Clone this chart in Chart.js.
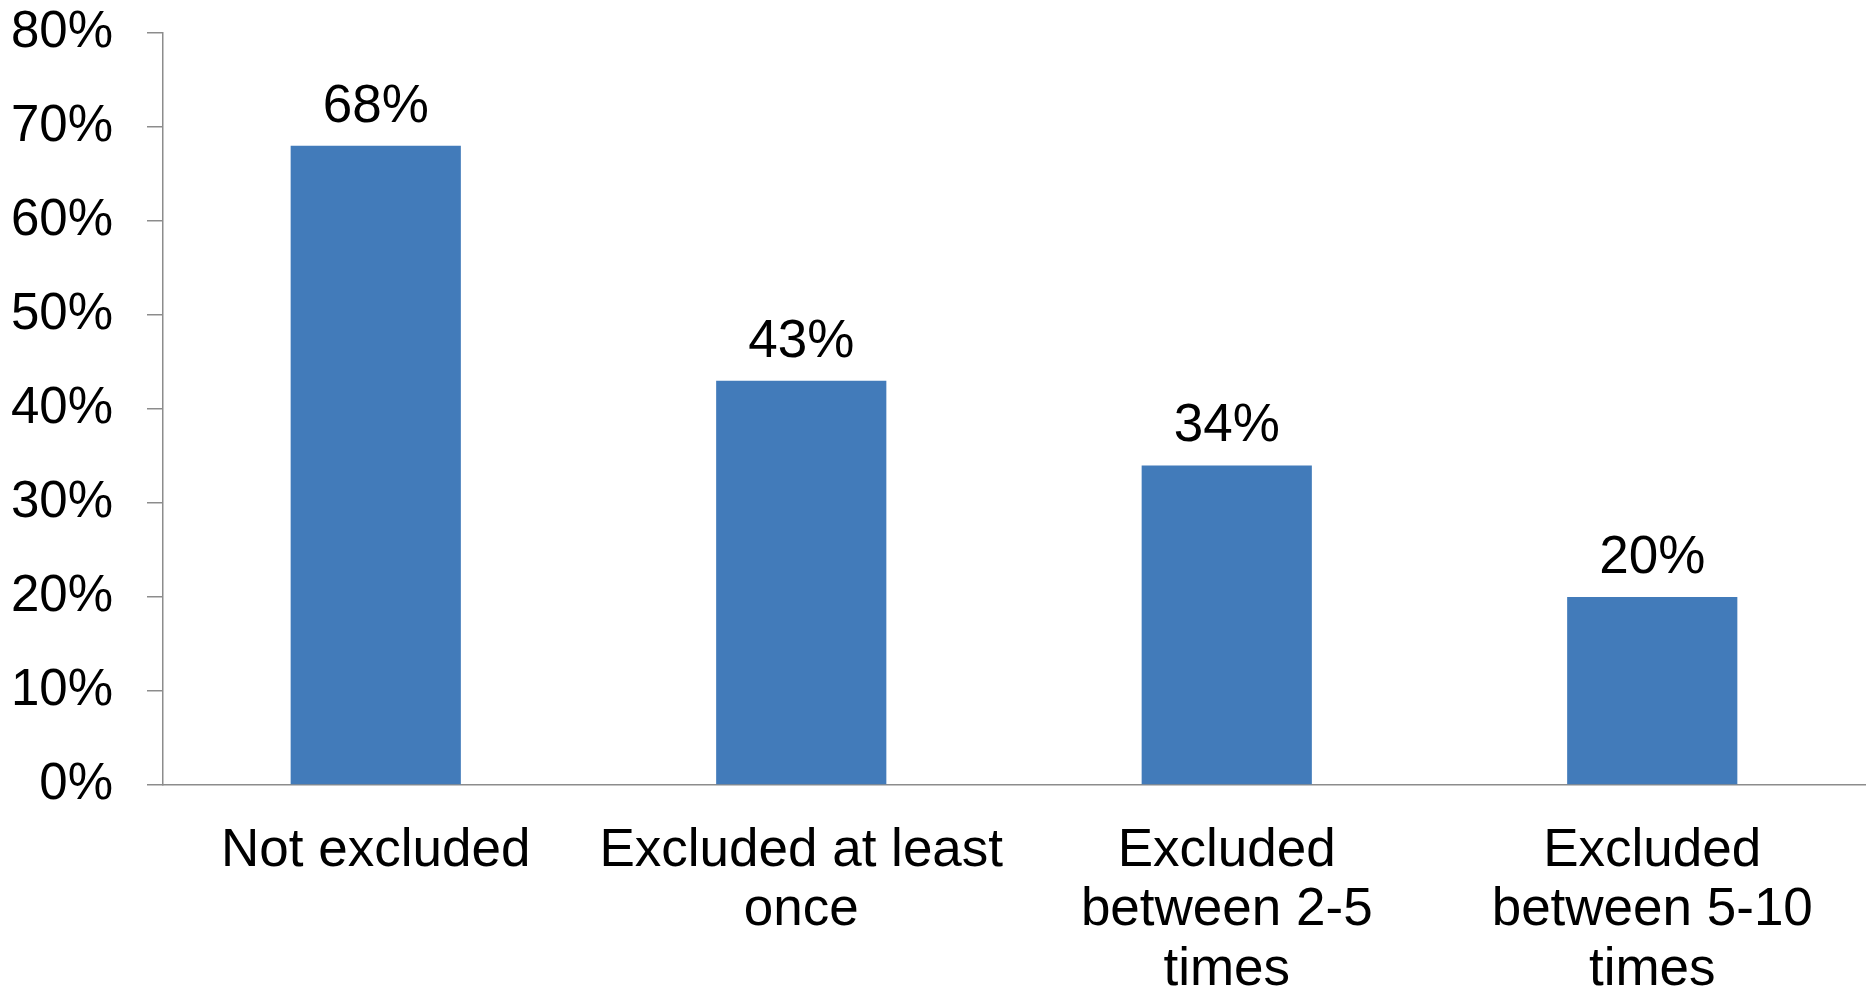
<!DOCTYPE html>
<html>
<head>
<meta charset="utf-8">
<script src="https://cdn.jsdelivr.net/npm/chart.js@4"></script>
<style>
  html, body { margin: 0; padding: 0; background: #fff; }
  #wrap { width: 1868px; height: 989px; position: relative; }
</style>
</head>
<body>
<div id="wrap"><canvas id="chart"></canvas></div>
<script>
// categories and values
const categories = [
    "Not excluded",
    ["Excluded at least", "once"],
    ["Excluded", "between 2-5", "times"],
    ["Excluded", "between 5-10", "times"]
];
const shares = [68, 43, 34, 20];
const yTicks = [0, 10, 20, 30, 40, 50, 60, 70, 80];

const fontFamily = "'Liberation Sans', Arial, sans-serif";
const axisGrey = '#8c8c8c';

// 柱子上方的数值标签
const valueLabels = {
    id: 'valueLabels',
    afterDatasetsDraw(chart) {
        const ctx = chart.ctx;
        const meta = chart.getDatasetMeta(0);
        ctx.save();
        ctx.font = '53px ' + fontFamily;
        ctx.fillStyle = '#000';
        ctx.textAlign = 'center';
        ctx.textBaseline = 'alphabetic';
        meta.data.forEach((bar, i) => {
            ctx.fillText(shares[i] + '%', bar.x, bar.y - 24);
        });
        ctx.restore();
    }
};

document.addEventListener('DOMContentLoaded', function() {
    const ctx = document.getElementById('chart').getContext('2d');
    new Chart(ctx, {
        type: 'bar',
        data: {
            labels: categories,
            datasets: [{
                data: shares,
                backgroundColor: '#427bba',
                borderWidth: 0,
                barPercentage: 0.8,
                categoryPercentage: 0.5
            }]
        },
        options: {
            responsive: true,
            maintainAspectRatio: false,
            animation: false,
            layout: { padding: { top: 33, right: 3, left: 0, bottom: 0 } },
            plugins: {
                legend: { display: false },
                tooltip: { enabled: false }
            },
            scales: {
                x: {
                    grid: { display: false, drawTicks: false },
                    border: { color: axisGrey, width: 1.5 },
                    ticks: {
                        color: '#000',
                        padding: 36,
                        maxRotation: 0,
                        autoSkip: false,
                        font: { family: fontFamily, size: 53, lineHeight: 1.13 }
                    },
                    afterFit(scale) {
                        scale.height = 204;
                        scale.paddingLeft = 0;
                        scale.paddingRight = 0;
                    }
                },
                y: {
                    min: 0,
                    max: 80,
                    afterBuildTicks(scale) {
                        scale.ticks = yTicks.map(v => ({ value: v }));
                    },
                    grid: {
                        drawOnChartArea: false,
                        color: axisGrey,
                        lineWidth: 1.5,
                        tickLength: 16
                    },
                    border: { color: axisGrey, width: 1.5 },
                    ticks: {
                        color: '#000',
                        padding: 34,
                        callback: v => v + '%',
                        font: { family: fontFamily, size: 51 }
                    },
                    afterFit(scale) {
                        scale.width = 163;
                        scale.paddingTop = 0;
                        scale.paddingBottom = 0;
                    }
                }
            }
        },
        plugins: [valueLabels]
    });
});
</script>
</body>
</html>
